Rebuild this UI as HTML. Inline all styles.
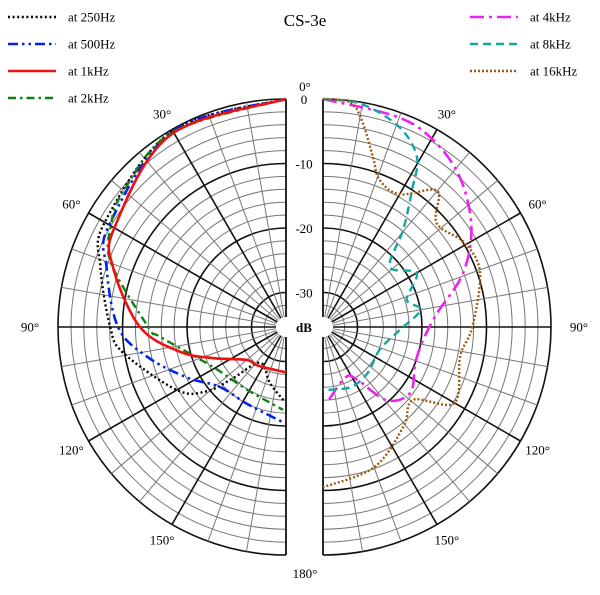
<!DOCTYPE html>
<html><head><meta charset="utf-8"><style>
html,body{margin:0;padding:0;background:#fff;}
svg text{font-family:"Liberation Serif",serif;fill:#000;}
</style></head><body>
<svg id="chart" width="600" height="590" viewBox="0 0 600 590" xmlns="http://www.w3.org/2000/svg">
<g id="grid"></g>
<g id="series"></g>
<g id="labels"></g>
<text x="305" y="26" font-size="17" text-anchor="middle">CS-3e</text>
<g id="legend"></g>
</svg>
<script>
// ---- data (angle in degrees, level in dB) ----
const angles250 = [0,30,60,72,90,99,120,129,134,144,164,178];
const db250     = [0,-0.2,-2.9,-5.1,-8.1,-9.8,-15.8,-19.5,-23.9,-28.5,-26.3,-24];
const angles500 = [0,30,60,71.5,90,102,117,132,153,178];
const db500     = [0,-0.3,-3.7,-6,-9.3,-13.3,-18.1,-21.5,-22,-20.6];
const angles1k  = [0,31,59.7,71,90,103,113,130,143,176,180];
const db1k      = [0,-0.6,-4.6,-7,-12.7,-18.4,-23,-27.4,-27.9,-28.4,-28.4];
const angles2k  = [0,30,50,60,70,90,94.5,119,148,178];
const db2k      = [0,-0.4,-2.5,-4.0,-6.5,-14,-15.8,-22.5,-23.9,-22.5];
const angles4k  = [0,19.4,30.5,42.4,56,69,83,97.4,111,127,139,147,156,177];
const db4k      = [0,-0.8,-1.7,-3.9,-7.6,-12.1,-17.5,-19.7,-20,-18.4,-20.3,-25.6,-26.8,-23.6];
const angles8k  = [0,10,21,29,33,39.5,48,60,72,80,92,112,136,156,180];
const db8k      = [0,-0.3,-2.2,-5.3,-10,-15.8,-21.4,-18.6,-21.7,-20,-23.4,-25.9,-25.4,-25.1,-25.6];
const angles16k = [0,7,11,16.4,21,30,40,47.6,59.4,71,90,102,120,129,141,160,180];
const db16k     = [0,-0.3,-3.1,-7.9,-10.9,-11.6,-7.8,-11.5,-9.8,-9.6,-12.2,-13.6,-11.8,-17.4,-15.5,-12.2,-10.5];
const ringLevels = [0,-2,-4,-6,-8,-10,-12,-14,-16,-18,-20,-22,-24,-26,-28,-30,-32];
const dbTickLabels = ["0","-10","-20","-30"];
const dbTickValues = [0,-10,-20,-30];
const angleTickLabels = ["30°","60°","90°","120°","150°"];

const NS="http://www.w3.org/2000/svg";
const CY=327, CXL=286, CXR=323, R0=228, K=6.45, HOLE=10;
function rad(db){return Math.max(HOLE, R0+K*db);}
function pt(side,a,db){const cx=side<0?CXL:CXR;const r=rad(db);const t=a*Math.PI/180;return [cx+side*r*Math.sin(t), CY-r*Math.cos(t)];}
function mk(tag,attrs,parent){const e=document.createElementNS(NS,tag);for(const k in attrs)e.setAttribute(k,attrs[k]);parent.appendChild(e);return e;}

const grid=document.getElementById('grid');
[-1,1].forEach(side=>{
  const cx=side<0?CXL:CXR;
  ringLevels.forEach(db=>{
    const r=rad(db);const thick=(db%10===0);
    const p=mk('path',{d:`M${cx},${CY-r} A${r},${r} 0 0 ${side>0?1:0} ${cx},${CY+r}`,fill:'none',stroke:thick?'#111':'#777','stroke-width':thick?1.6:1},grid);
    
    
  });
  for(let a=10;a<180;a+=10){
    const [x1,y1]=pt(side,a,-40);const [x2,y2]=pt(side,a,0);
    const thick=(a%30===0);
    const l=mk('line',{x1,y1,x2,y2,stroke:thick?'#111':'#777','stroke-width':thick?1.6:1},grid);
    
    
  }
  const ax=mk('line',{x1:cx,y1:CY-R0,x2:cx,y2:CY+R0,stroke:'#111','stroke-width':1.8},grid);
  
  
  const h=mk('circle',{cx:cx,cy:CY,r:HOLE,fill:'#fff'},grid);
  
  
});
const gap=mk('rect',{x:CXL+1,y:80,width:CXR-CXL-2,height:500,fill:'#fff'},grid);



function smooth(pts){
  let d=`M${pts[0][0].toFixed(1)},${pts[0][1].toFixed(1)}`;
  for(let i=0;i<pts.length-1;i++){
    const p0=pts[i-1]||pts[i],p1=pts[i],p2=pts[i+1],p3=pts[i+2]||p2;
    const c1=[p1[0]+(p2[0]-p0[0])/6,p1[1]+(p2[1]-p0[1])/6];
    const c2=[p2[0]-(p3[0]-p1[0])/6,p2[1]-(p3[1]-p1[1])/6];
    d+=` C${c1[0].toFixed(1)},${c1[1].toFixed(1)} ${c2[0].toFixed(1)},${c2[1].toFixed(1)} ${p2[0].toFixed(1)},${p2[1].toFixed(1)}`;
  }
  return d;
}
const seriesG=document.getElementById('series');
const styles=[
 {n:'series-250hz',side:-1,a:angles250,v:db250,c:'#000',dash:'2 2.6',w:2.4,lab:'at 250Hz',lx:8,ly:17},
 {n:'series-500hz',side:-1,a:angles500,v:db500,c:'#0022ee',dash:'10 4 2.5 4 2.5 4',w:2.6,lab:'at 500Hz',lx:8,ly:44},
 {n:'series-2khz',side:-1,a:angles2k,v:db2k,c:'#108010',dash:'8 4 2.5 4',w:2.4,lab:'at 2kHz',lx:8,ly:98},
 {n:'series-1khz',side:-1,a:angles1k,v:db1k,c:'#ee1111',dash:'',w:2.6,lab:'at 1kHz',lx:8,ly:71},
 {n:'series-4khz',side:1,a:angles4k,v:db4k,c:'#ee22ee',dash:'14 5 3 5',w:2.6,lab:'at 4kHz',lx:470,ly:17},
 {n:'series-8khz',side:1,a:angles8k,v:db8k,c:'#10a8a0',dash:'8 5',w:2.4,lab:'at 8kHz',lx:470,ly:44},
 {n:'series-16khz',side:1,a:angles16k,v:db16k,c:'#a05a10',dash:'2 2',w:2.4,lab:'at 16kHz',lx:470,ly:71}
];
const legend=document.getElementById('legend');
styles.forEach(s=>{
  const pts=s.a.map((a,i)=>pt(s.side,a,s.v[i]));
  const p=mk('path',{d:smooth(pts),fill:'none',stroke:s.c,'stroke-width':s.w,'stroke-dasharray':s.dash},seriesG);
  
  
  const g=mk('g',{},legend);
  
  
  mk('line',{x1:s.lx,y1:s.ly,x2:s.lx+48,y2:s.ly,stroke:s.c,'stroke-width':s.w,'stroke-dasharray':s.dash},g);
  const t=mk('text',{x:s.lx+60,y:s.ly+4.5,'font-size':13},g);
  t.textContent=s.lab;
});

const labels=document.getElementById('labels');
dbTickValues.forEach((v,i)=>{
  const t=mk('text',{x:304,y:CY-rad(v)+5,'font-size':13,'text-anchor':'middle'},labels);
  
  
  t.textContent=dbTickLabels[i];
});
const dbl=mk('text',{x:304,y:CY+5,'font-size':13,'font-weight':'bold','text-anchor':'middle'},labels);


dbl.textContent='dB';
const z=mk('text',{x:305,y:91,'font-size':13,'text-anchor':'middle'},labels);


z.textContent='0°';
const b=mk('text',{x:305,y:578,'font-size':13,'text-anchor':'middle'},labels);


b.textContent='180°';
[-1,1].forEach(side=>{
  angleTickLabels.forEach((lab,i)=>{
    const a=(i+1)*30;
    const [x,y]=pt(side,a,0);
    const off=a===90?28:18;
    const tx=x+side*off*Math.sin(a*Math.PI/180)*(a===90?1:1.1);
    const ty=y-off*Math.cos(a*Math.PI/180)+4.5;
    const t=mk('text',{x:tx,y:ty,'font-size':13,'text-anchor':'middle'},labels);
    
    
    t.textContent=lab;
  });
});
</script>
</body></html>
